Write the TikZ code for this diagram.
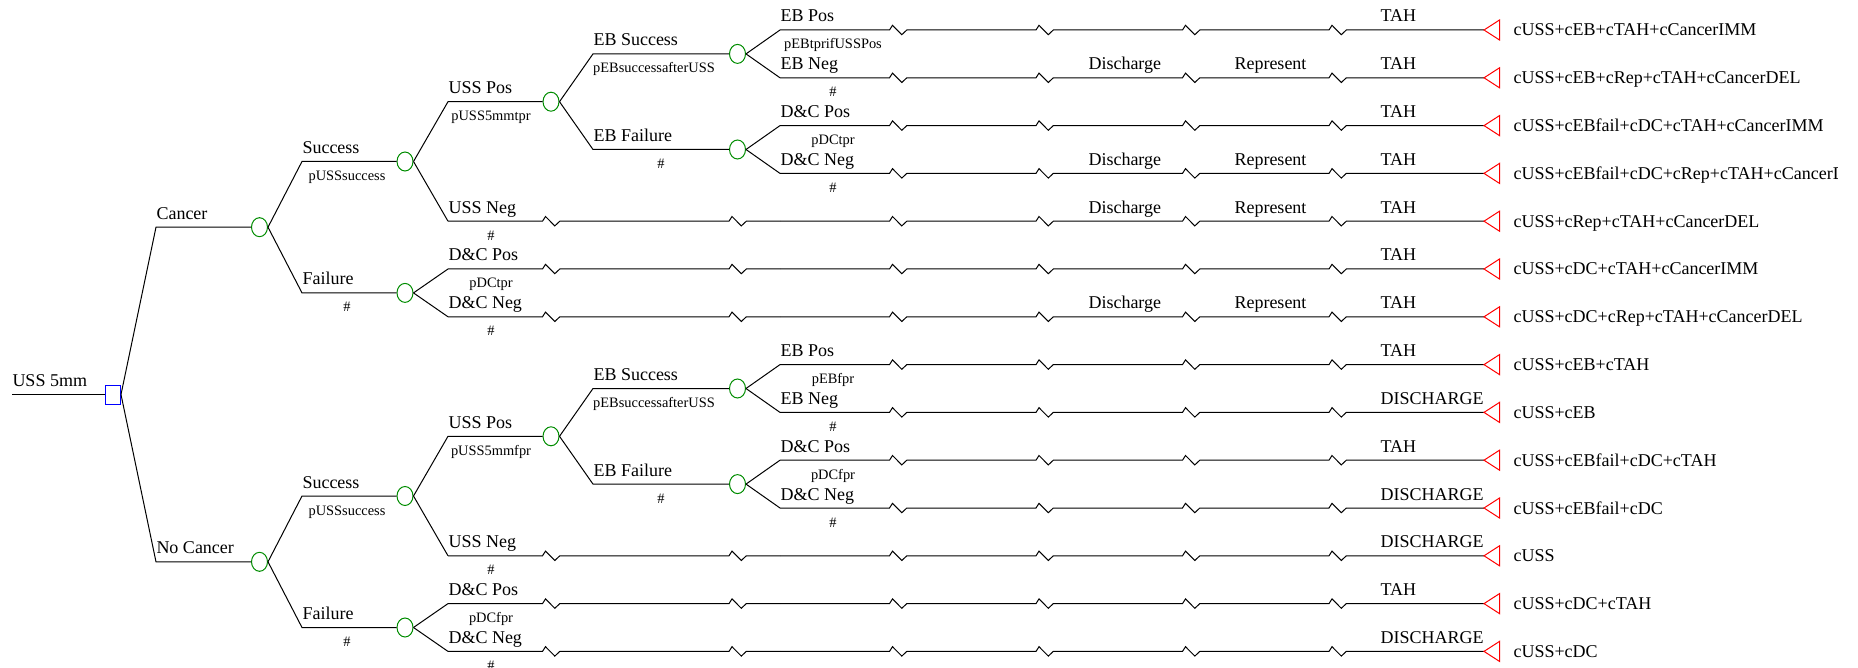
\documentclass[tikz,border=0pt]{standalone}
\usepackage{fontspec}
\setmainfont{Liberation Serif}
\usepackage{tikz}
\usetikzlibrary{shapes.geometric}
\definecolor{chancegreen}{RGB}{0,140,0}

\tikzset{
  chance/.style={ellipse,draw=chancegreen,minimum width=8pt,minimum height=9.5pt,inner sep=0pt},
  decision/.style={rectangle,draw=blue,minimum width=7.5pt,minimum height=9.5pt,inner sep=0pt},
  brlabel/.style={anchor=base west,inner sep=0pt,font=\fontsize{9}{10}\selectfont},
  problabel/.style={anchor=base,inner sep=0pt,font=\fontsize{7.2}{8}\selectfont},
  payoff/.style={anchor=base west,inner sep=0pt,font=\fontsize{9}{10}\selectfont}
}

\begin{document}
\begin{tikzpicture}[x=0.5pt,y=-0.5pt,line width=0.5pt]
\useasboundingbox (0,0) rectangle (1858,668);
\clip (0,0) rectangle (1837,668);

% decision and chance nodes
\node[decision] (root) at (113,394.5) {};
\node[chance] (can) at (259.5,227.2) {};
\node[chance] (nocan) at (259.5,561.8) {};
\node[chance] (cS) at (405,161.5) {};
\node[chance] (cF) at (405,292.9) {};
\node[chance] (nS) at (405,496) {};
\node[chance] (nF) at (405,627.5) {};
\node[chance] (cUP) at (551,101.7) {};
\node[chance] (nUP) at (551,436.3) {};
\node[chance] (cES) at (737.5,53.9) {};
\node[chance] (cEF) at (737.5,149.5) {};
\node[chance] (nES) at (737.5,388.5) {};
\node[chance] (nEF) at (737.5,484.1) {};

\coordinate (in) at (12,394.5);
\draw (in) -- (root.west);
\node[brlabel,yshift=4pt] at (in) {USS 5mm};

% first split
\foreach \c/\t in {can/Cancer,nocan/No Cancer}{
  \coordinate (b) at (156,0 |- \c);
  \draw (root.east) -- (b) -- (\c.west);
  \node[brlabel,yshift=4pt] at (b) {\t};
}

% inner branches
\foreach \p/\c/\s/\t/\q/\qx in {
  can/cS/302/Success/pUSSsuccess/347,
  can/cF/302/Failure/\#/347,
  cS/cUP/448/USS Pos/pUSS5mmtpr/491,
  cUP/cES/593/EB Success/pEBsuccessafterUSS/654,
  cUP/cEF/593/EB Failure/\#/661,
  nocan/nS/302/Success/pUSSsuccess/347,
  nocan/nF/302/Failure/\#/347,
  nS/nUP/448/USS Pos/pUSS5mmfpr/491,
  nUP/nES/593/EB Success/pEBsuccessafterUSS/654,
  nUP/nEF/593/EB Failure/\#/661}{
  \coordinate (b) at (\s,0 |- \c);
  \draw (\p.east) -- (b) -- (\c.west);
  \node[brlabel,yshift=4pt] at (b) {\t};
  \node[problabel,yshift=-9.5pt] at (\qx,0 |- b) {\q};
}

% terminal rows
\foreach \r/\p/\s/\t/\q/\d/\e/\v in {
  1/cES/780/EB Pos/pEBtprifUSSPos/0/TAH/cUSS+cEB+cTAH+cCancerIMM,
  2/cES/780/EB Neg/\#/1/TAH/cUSS+cEB+cRep+cTAH+cCancerDEL,
  3/cEF/780/D\&C Pos/pDCtpr/0/TAH/cUSS+cEBfail+cDC+cTAH+cCancerIMM,
  4/cEF/780/D\&C Neg/\#/1/TAH/cUSS+cEBfail+cDC+cRep+cTAH+cCancerDEL,
  5/cS/448/USS Neg/\#/1/TAH/cUSS+cRep+cTAH+cCancerDEL,
  6/cF/448/D\&C Pos/pDCtpr/0/TAH/cUSS+cDC+cTAH+cCancerIMM,
  7/cF/448/D\&C Neg/\#/1/TAH/cUSS+cDC+cRep+cTAH+cCancerDEL,
  8/nES/780/EB Pos/pEBfpr/0/TAH/cUSS+cEB+cTAH,
  9/nES/780/EB Neg/\#/0/DISCHARGE/cUSS+cEB,
  10/nEF/780/D\&C Pos/pDCfpr/0/TAH/cUSS+cEBfail+cDC+cTAH,
  11/nEF/780/D\&C Neg/\#/0/DISCHARGE/cUSS+cEBfail+cDC,
  12/nS/448/USS Neg/\#/0/DISCHARGE/cUSS,
  13/nF/448/D\&C Pos/pDCfpr/0/TAH/cUSS+cDC+cTAH,
  14/nF/448/D\&C Neg/\#/0/DISCHARGE/cUSS+cDC}{
  \pgfmathsetmacro\y{30+47.8*(\r-1)}
  \coordinate (e\r) at (1484,\y);
  \draw (\p.east) -- (\s,\y);
  \ifnum\s=448
    \draw (\s,\y) foreach \z in {551,737.5}{-- (\z-8.5,\y) -- ++(3,-4.7) -- ++(9.3,9.4) -- ++(5,-4.7)} -- (780,\y);
    \node[problabel,yshift=-9.5pt] at (491,\y) {\q};
  \else
    \node[problabel,yshift=-9.5pt] at (833,\y) {\q};
  \fi
  \draw (780,\y) foreach \z in {898,1044.5,1191,1337.5}{-- (\z-8.5,\y) -- ++(3,-4.7) -- ++(9.3,9.4) -- ++(5,-4.7)} -- (e\r);
  \draw[red] (e\r) -- ++(15.5,-10) -- ++(0,20) -- cycle;
  \node[brlabel,yshift=4pt] at (\s,\y) {\t};
  \ifnum\d=1
    \node[brlabel,yshift=4pt] at (1088,\y) {Discharge};
    \node[brlabel,yshift=4pt] at (1234,\y) {Represent};
  \fi
  \node[brlabel,yshift=4pt] at (1380,\y) {\e};
  \node[payoff,yshift=-3pt] at (1513,\y) {\v};
}
\end{tikzpicture}
\end{document}
